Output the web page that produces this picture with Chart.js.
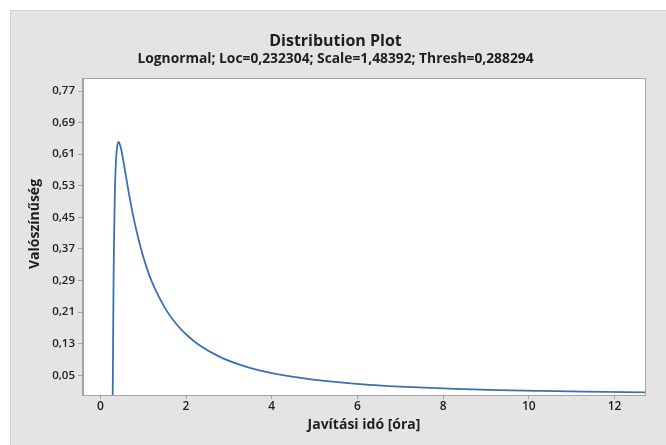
<!DOCTYPE html>
<html>
<head>
<meta charset="utf-8">
<script src="https://cdn.jsdelivr.net/npm/chart.js@4.4.1/dist/chart.umd.min.js"></script>
<style>
  html, body { margin: 0; padding: 0; background: #ffffff; }
  #wrap { width: 666px; height: 445px; }
</style>
</head>
<body>
<div id="wrap"><canvas id="distChart" width="666" height="445"></canvas></div>
<script>
// Javítási idő (óra) - x értékek
const repairTime = [0.288, 0.289, 0.290, 0.293, 0.298, 0.308, 0.318, 0.338, 0.363, 0.388,
  0.428, 0.438, 0.488, 0.588, 0.688, 0.788, 0.988, 1.138, 1.288, 1.538, 1.788, 2.038,
  2.288, 2.788, 3.288, 3.788, 4.288, 5.288, 6.288, 7.288, 8.288, 9.288, 10.288, 11.288, 12.71];
// Valószínűség sűrűség
const density = [0.0, 0.0025, 0.011, 0.052, 0.132, 0.272, 0.375, 0.505, 0.587, 0.625,
  0.641, 0.640, 0.622, 0.561, 0.498, 0.443, 0.355, 0.305, 0.266, 0.215, 0.178, 0.150,
  0.128, 0.0967, 0.0756, 0.0606, 0.0497, 0.035, 0.0258, 0.0197, 0.0155, 0.0124, 0.0102, 0.0084, 0.0066];

const xTicks = [0, 2, 4, 6, 8, 10, 12];
const yTicks = [0.05, 0.13, 0.21, 0.29, 0.37, 0.45, 0.53, 0.61, 0.69, 0.77];

const FONT = "'Open Sans', 'Noto Sans', sans-serif";
const TEXT = '#1e1e1e';
const AXIS = '#a3a3a3';
const Y_TITLE = 'Valószínűség';

// hatter: szurke panel + feher rajzterulet, y tengely cime
const backgroundPlugin = {
  id: 'minitabBackground',
  beforeDraw(chart) {
    const { ctx, chartArea } = chart;
    ctx.save();
    ctx.fillStyle = '#ffffff';
    ctx.fillRect(0, 0, chart.width, chart.height);
    ctx.fillStyle = '#e4e4e4';
    ctx.fillRect(10, 10, chart.width - 10, chart.height - 10);
    ctx.strokeStyle = '#d3d3d3';
    ctx.lineWidth = 1;
    ctx.beginPath();
    ctx.moveTo(10.5, chart.height);
    ctx.lineTo(10.5, 10.5);
    ctx.lineTo(chart.width, 10.5);
    ctx.stroke();
    ctx.fillStyle = '#ffffff';
    ctx.fillRect(chartArea.left, chartArea.top, chartArea.right - chartArea.left, chartArea.bottom - chartArea.top);
    ctx.restore();
  },
  afterDraw(chart) {
    const { ctx, chartArea } = chart;
    ctx.save();
    ctx.strokeStyle = AXIS;
    ctx.lineWidth = 1;
    ctx.strokeRect(Math.round(chartArea.left) - 0.5, Math.round(chartArea.top) - 0.5,
      Math.round(chartArea.right - chartArea.left) + 1, Math.round(chartArea.bottom - chartArea.top) + 1);
    // y tengely cime (kicsit a rajzterulet kozepe folott, mint az eredetin)
    ctx.translate(35, 224);
    ctx.rotate(-Math.PI / 2);
    ctx.fillStyle = TEXT;
    ctx.font = "bold 14px " + FONT;
    ctx.textAlign = 'center';
    ctx.textBaseline = 'middle';
    ctx.fillText(Y_TITLE, 0, 0);
    ctx.restore();
  }
};

const commaFormat = v => v.toFixed(2).replace('.', ',');

new Chart(document.getElementById('distChart').getContext('2d'), {
  type: 'line',
  data: {
    datasets: [{
      data: repairTime.map((x, i) => ({ x: x, y: density[i] })),
      borderColor: '#3a70b6',
      borderWidth: 1.8,
      pointRadius: 0,
      fill: false,
      cubicInterpolationMode: 'monotone'
    }]
  },
  options: {
    responsive: false,
    animation: false,
    layout: { padding: { left: 26, right: 21, top: 0, bottom: 8 } },
    plugins: {
      legend: { display: false },
      tooltip: { enabled: false },
      title: {
        display: true,
        text: 'Distribution Plot',
        color: TEXT,
        font: { family: FONT, size: 16, weight: 'bold', lineHeight: 1.25 },
        padding: { top: 31, bottom: 0 }
      },
      subtitle: {
        display: true,
        text: 'Lognormal; Loc=0,232304; Scale=1,48392; Thresh=0,288294',
        color: TEXT,
        font: { family: FONT, size: 13.8, weight: 'bold', lineHeight: 1.1 },
        padding: { top: 0, bottom: 13 }
      }
    },
    scales: {
      x: {
        type: 'linear',
        min: -0.404,
        max: 12.71,
        afterBuildTicks: scale => { scale.ticks = xTicks.map(v => ({ value: v })); },
        afterFit: scale => { scale.height = 42; },
        grid: { drawOnChartArea: false, drawTicks: true, tickLength: 4, color: AXIS },
        border: { display: true, color: AXIS },
        ticks: { color: TEXT, font: { family: FONT, size: 12, weight: '600' }, padding: 0, maxRotation: 0 },
        title: {
          display: true,
          text: 'Javítási idó [óra]',
          color: TEXT,
          font: { family: FONT, size: 14, weight: 'bold' },
          padding: { top: 4, bottom: 4 }
        }
      },
      y: {
        type: 'linear',
        min: 0,
        max: 0.8,
        afterBuildTicks: scale => { scale.ticks = yTicks.map(v => ({ value: v })); },
        afterFit: scale => { scale.width = 57; },
        grid: { drawOnChartArea: false, drawTicks: true, tickLength: 5, color: AXIS },
        border: { display: true, color: AXIS },
        ticks: { color: TEXT, font: { family: FONT, size: 11.5, weight: '600' }, padding: 3, callback: v => commaFormat(v) },
        title: { display: false }
      }
    }
  },
  plugins: [backgroundPlugin]
});
</script>
</body>
</html>
